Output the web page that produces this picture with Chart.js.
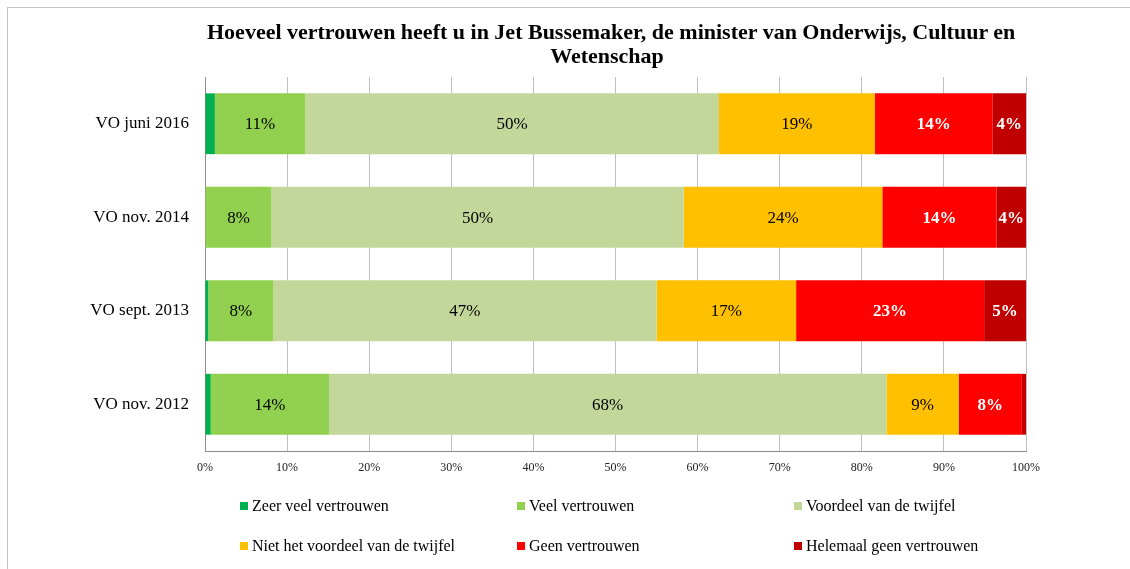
<!DOCTYPE html>
<html>
<head>
<meta charset="utf-8">
<script src="https://cdn.jsdelivr.net/npm/chart.js@4/dist/chart.umd.min.js"></script>
<style>
  html, body { margin: 0; padding: 0; background: #fff; }
  #wrap { position: relative; width: 1130px; height: 569px; overflow: hidden; }
  #frame { position: absolute; left: 7px; top: 7px; width: 1200px; height: 700px;
           border-top: 1px solid #c4c4c4; border-left: 1px solid #c4c4c4; }
  #title { position: absolute; left: 207px; width: 800px; top: 20px; text-align: center;
           font-family: 'Liberation Serif', serif; font-size: 22px; font-weight: bold;
           line-height: 24px; color: #000; white-space: nowrap; }
  #legend { position: absolute; left: 240px; top: 494px; display: grid;
            grid-template-columns: 277px 277px 277px; grid-auto-rows: 40px;
            font-family: 'Liberation Serif', serif; font-size: 16px; color: #000; }
  .item { display: flex; align-items: center; height: 24px; }
  .box { width: 8px; height: 8px; margin-right: 4px; }
</style>
</head>
<body>
<div id="wrap">
  <div id="frame"></div>
  <canvas id="chart" width="1130" height="569"></canvas>
  <div id="title">Hoeveel vertrouwen heeft u in Jet Bussemaker, de minister van Onderwijs, Cultuur en<br>Wetenschap</div>
  <div id="legend"></div>
</div>
<script>
// 数据
const categories = ['VO juni 2016', 'VO nov. 2014', 'VO sept. 2013', 'VO nov. 2012'];
const seriesNames = ['Zeer veel vertrouwen', 'Veel vertrouwen', 'Voordeel van de twijfel',
  'Niet het voordeel van de twijfel', 'Geen vertrouwen', 'Helemaal geen vertrouwen'];
const zeerVeel = [1.2, 0, 0.4, 0.7];
const veel = [11.0, 8.1, 7.9, 14.4];
const voordeel = [50.4, 50.2, 46.7, 67.9];
const nietVoordeel = [19.0, 24.2, 17.0, 8.8];
const geen = [14.3, 13.9, 22.9, 7.7];
const helemaalGeen = [4.1, 3.6, 5.1, 0.5];
const xTicks = [0, 10, 20, 30, 40, 50, 60, 70, 80, 90, 100];

const colors = ['#00b050', '#92d050', '#c4d79b', '#ffc000', '#ff0000', '#c00000'];
const labelColors = ['#000', '#000', '#000', '#000', '#fff', '#fff'];
const labelBold = [false, false, false, false, true, true];
const values = [zeerVeel, veel, voordeel, nietVoordeel, geen, helemaalGeen];

const SERIF = "'Liberation Serif', serif";

// 数值标签
const barLabels = {
  id: 'barLabels',
  afterDatasetsDraw(chart) {
    const ctx = chart.ctx;
    ctx.save();
    ctx.textAlign = 'center';
    ctx.textBaseline = 'middle';
    chart.data.datasets.forEach((ds, i) => {
      const meta = chart.getDatasetMeta(i);
      meta.data.forEach((bar, j) => {
        const v = ds.data[j];
        if (v < 3) return;
        const p = bar.getCenterPoint();
        ctx.fillStyle = labelColors[i];
        ctx.font = (labelBold[i] ? 'bold ' : '') + '17px ' + SERIF;
        ctx.fillText(Math.round(v) + '%', p.x, p.y + 1);
      });
    });
    ctx.restore();
  }
};

const chart = new Chart(document.getElementById('chart'), {
  type: 'bar',
  data: {
    labels: categories,
    datasets: seriesNames.map((name, i) => ({
      label: name,
      data: values[i],
      backgroundColor: colors[i],
      borderWidth: 0,
      barPercentage: 0.65,
      categoryPercentage: 1
    }))
  },
  options: {
    indexAxis: 'y',
    responsive: false,
    animation: false,
    layout: { padding: { left: 0, right: 104, top: 77, bottom: 88 } },
    plugins: {
      legend: { display: false },
      tooltip: { enabled: false },
      title: { display: false }
    },
    scales: {
      x: {
        stacked: true,
        min: 0,
        max: 100,
        afterBuildTicks: (scale) => { scale.ticks = xTicks.map(v => ({ value: v })); },
        afterFit: (scale) => { scale.height = 30; },
        grid: { color: '#c0c0c0', drawTicks: false },
        border: { color: '#8c8c8c' },
        ticks: {
          padding: 10,
          color: '#222',
          font: { family: SERIF, size: 12 },
          callback: (v) => v + '%'
        }
      },
      y: {
        stacked: true,
        afterFit: (scale) => { scale.width = 205; },
        grid: { display: false, drawTicks: false },
        border: { display: true, color: '#8c8c8c' },
        ticks: {
          padding: 16,
          color: '#000',
          font: { family: SERIF, size: 17 }
        }
      }
    }
  },
  plugins: [barLabels]
});

// 图例
const legend = document.getElementById('legend');
legend.innerHTML = seriesNames.map((name, i) => `
  <div class="item"><span class="box" style="background:${colors[i]}"></span>${name}</div>
`).join('');
</script>
</body>
</html>
